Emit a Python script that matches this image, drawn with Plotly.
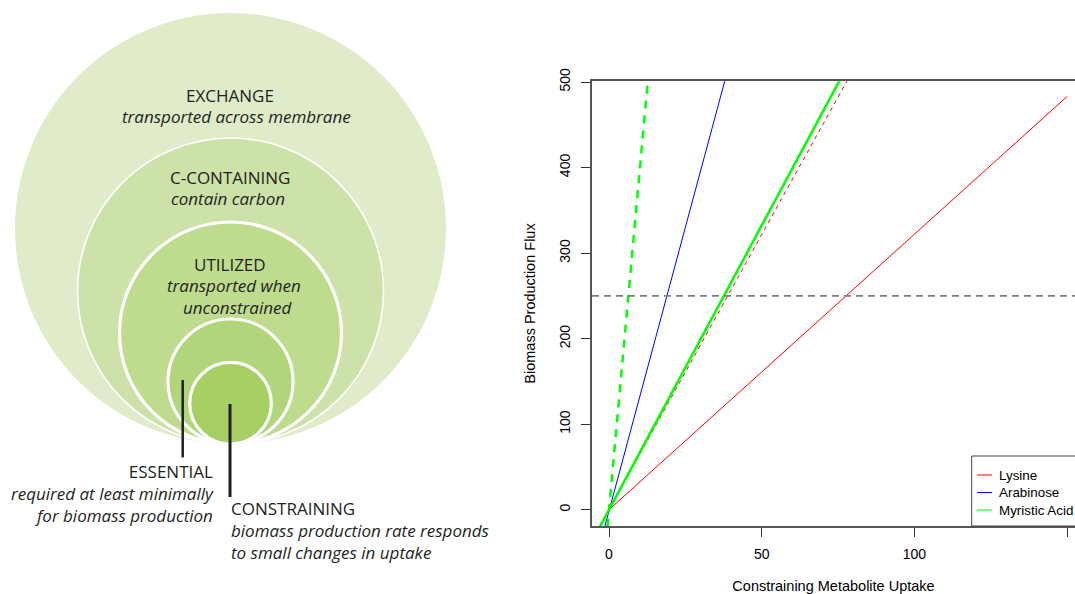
import plotly.graph_objects as go

W, H = 1075, 594

# ---------------- data ----------------
x_ticks = [0, 50, 100, 150]
y_ticks = [0, 100, 200, 300, 400, 500]
threshold_flux = 250

lysine_uptake = [0, 150]
lysine_flux = [0, 483]
lysine_dashed_uptake = [0, 77.9]
lysine_dashed_flux = [0, 501]
arabinose_uptake = [-1.4, 37.9]
arabinose_flux = [-20, 501]
myristic_uptake = [-3.0, 75.4]
myristic_flux = [-20, 501]
myristic_dashed_uptake = [-0.5, 12.7]
myristic_dashed_flux = [-20, 501]

legend_names = ["Lysine", "Arabinose", "Myristic Acid"]
legend_colors = ["#ff0000", "#0000ff", "#00ff00"]

# diagram: nested categories
circle_labels = ["EXCHANGE", "C-CONTAINING", "UTILIZED", "ESSENTIAL", "CONSTRAINING"]
circle_radii = [215.5, 153, 111, 62.5, 40.8]
circle_fills = ["#dfebc9", "#cde2a8", "#bfdb8e", "#b1d57a", "#a6cf64"]
circle_borders = [0, 1.6, 3.2, 3.2, 3.2]


def X(px):
    return px / W


def Y(py):
    return (H - py) / H


fig = go.Figure()

# ---------------- right chart traces ----------------
fig.add_trace(go.Scatter(x=lysine_uptake, y=lysine_flux, mode="lines",
                         line=dict(color="#ff0000", width=1), showlegend=False))
fig.add_trace(go.Scatter(x=lysine_dashed_uptake, y=lysine_dashed_flux, mode="lines",
                         line=dict(color="#ff0000", width=1, dash="4px,4px"), showlegend=False))
fig.add_trace(go.Scatter(x=arabinose_uptake, y=arabinose_flux, mode="lines",
                         line=dict(color="#0000ff", width=1), showlegend=False))
fig.add_trace(go.Scatter(x=myristic_uptake, y=myristic_flux, mode="lines",
                         line=dict(color="#00ff00", width=2.5), showlegend=False))
fig.add_trace(go.Scatter(x=myristic_dashed_uptake, y=myristic_dashed_flux, mode="lines",
                         line=dict(color="#00ff00", width=2.5, dash="8px,7px"), showlegend=False))

shapes = []
annotations = []

# horizontal threshold line
shapes.append(dict(type="line", xref="x domain", yref="y", x0=0, x1=1,
                   y0=threshold_flux, y1=threshold_flux,
                   line=dict(color="#808080", width=1.6, dash="7px,5px")))

# ---------------- left diagram ----------------
cx, bottom = 230.5, 444
for r, fill, bw in zip(circle_radii, circle_fills, circle_borders):
    shapes.append(dict(type="circle", xref="paper", yref="paper",
                       x0=X(cx - r), x1=X(cx + r), y0=Y(bottom), y1=Y(bottom - 2 * r),
                       fillcolor=fill,
                       line=dict(color="white", width=bw)))

# pointer lines
shapes.append(dict(type="line", xref="paper", yref="paper",
                   x0=X(182.7), x1=X(182.7), y0=Y(380), y1=Y(457.5),
                   line=dict(color="#231f20", width=2.5)))
shapes.append(dict(type="line", xref="paper", yref="paper",
                   x0=X(230), x1=X(230), y0=Y(404), y1=Y(497),
                   line=dict(color="#231f20", width=3)))

dfont = dict(family="Open Sans", size=17, color="#231f20")
ifont = dict(family="Open Sans", size=17, color="#231f20", style="italic")


def txt(text, x, y, font, xanchor="center"):
    annotations.append(dict(text=text, x=X(x), y=Y(y), xref="paper", yref="paper",
                            showarrow=False, xanchor=xanchor, yanchor="middle",
                            align=xanchor if xanchor != "center" else "center", font=font))


txt(circle_labels[0], 230, 95, dfont)
txt("transported across membrane", 236, 116, ifont)
txt(circle_labels[1], 229.5, 178, dfont)
txt("contain carbon", 228, 199, ifont)
txt(circle_labels[2], 230, 264, dfont)
txt("transported when", 234, 285, ifont)
txt("unconstrained", 237, 307, ifont)
txt(circle_labels[3] + "<br><i>required at least minimally</i><br><i>for biomass production</i>",
    216, 493.5, dfont, "right")
txt(circle_labels[4] + "<br><i>biomass production rate responds</i><br><i>to small changes in uptake</i>",
    229.3, 530.5, dfont, "left")

# ---------------- manual legend ----------------
lg_left, lg_top, lg_bottom = 971.7, 456, 526
shapes.append(dict(type="rect", xref="paper", yref="paper", layer="above",
                   x0=X(lg_left), x1=X(W + 20), y0=Y(lg_bottom), y1=Y(lg_top),
                   line=dict(color="#444444", width=1), fillcolor="rgba(255,255,255,0)"))
for i, (name, col) in enumerate(zip(legend_names, legend_colors)):
    yy = 475 + i * 17.5
    shapes.append(dict(type="line", xref="paper", yref="paper", layer="above",
                       x0=X(977), x1=X(992), y0=Y(yy), y1=Y(yy),
                       line=dict(color=col, width=1)))
    annotations.append(dict(text=name, x=X(997), y=Y(yy), xref="paper", yref="paper",
                            showarrow=False, xanchor="left", yanchor="middle",
                            font=dict(family="Liberation Sans", size=13.4, color="black")))

axfont = dict(family="Liberation Sans", size=14, color="black")
titlefont = dict(family="Liberation Sans", size=14.5, color="black")

fig.update_layout(
    width=W, height=H,
    margin=dict(l=0, r=0, t=0, b=0, autoexpand=False),
    paper_bgcolor="white", plot_bgcolor="white",
    template="none",
    showlegend=False,
    shapes=shapes,
    annotations=annotations,
    xaxis=dict(domain=[X(592), 1], range=[-5.57, 152.62],
               tickmode="array", tickvals=x_ticks, ticktext=[str(v) for v in x_ticks],
               ticks="outside", ticklen=9, tickwidth=1, tickcolor="#333333",
               showline=True, linecolor="#555555", linewidth=1.5, mirror=True,
               showgrid=False, zeroline=False, automargin=False,
               tickfont=axfont, ticklabelstandoff=5,
               title=dict(text="Constraining Metabolite Uptake", standoff=25, font=titlefont)),
    yaxis=dict(domain=[Y(526), Y(81)], range=[-19.06, 501.2],
               tickmode="array", tickvals=y_ticks, ticktext=[str(v) for v in y_ticks],
               tickangle=-90,
               ticks="outside", ticklen=9, tickwidth=1, tickcolor="#333333",
               showline=True, linecolor="#555555", linewidth=1.5, mirror=False,
               showgrid=False, zeroline=False, automargin=False,
               tickfont=axfont, ticklabelstandoff=6,
               title=dict(text="Biomass Production Flux", standoff=18, font=titlefont)),
)

fig.write_html("out.html")
